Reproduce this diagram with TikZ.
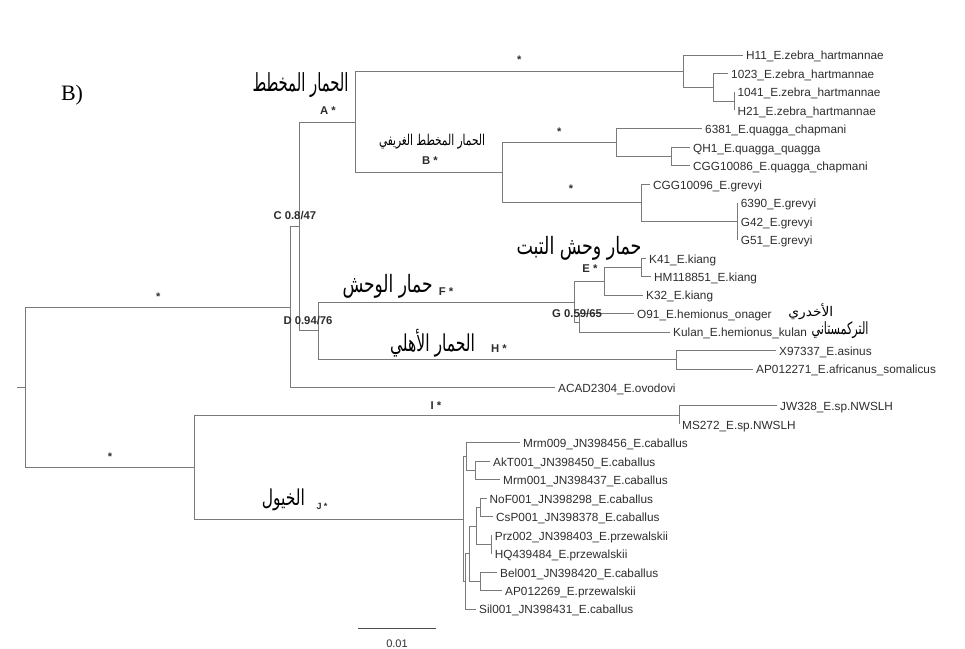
\documentclass[tikz,border=0pt]{standalone}
\usepackage{fontspec}
\usepackage{graphicx}
\setmainfont{Liberation Sans}
\newfontfamily\arabicfont[Script=Arabic]{DejaVu Sans}
\newfontfamily\serifB{Liberation Serif}
\TeXXeTstate=1
\definecolor{branch}{HTML}{7A7A7A}
\definecolor{txt}{HTML}{2E2E2E}
\begin{document}
\begin{tikzpicture}[x=1pt,y=-1pt,
 br/.style={draw=branch, line width=0.9pt},
 leaf/.style={anchor=base west, inner sep=0pt, xshift=3pt, yshift=-4.8pt, text=txt, font=\fontsize{11.8}{12}\selectfont},
 lab/.style={anchor=base, inner sep=0pt, text=txt, font=\bfseries\fontsize{11.3}{12}\selectfont},
 labw/.style={anchor=base west, inner sep=0pt, text=txt, font=\bfseries\fontsize{11.3}{12}\selectfont},
 star/.style={anchor=base, inner sep=0pt, text=txt, font=\bfseries\fontsize{11}{12}\selectfont},
 arab/.style={inner sep=0pt, text=black, font=\arabicfont}]
\useasboundingbox (0,0) rectangle (965,648);
\fill[white] (0,0) rectangle (965,648);

% internal nodes
\coordinate (rootstub) at (17,387.04);
\coordinate (root) at (25.7,387.04);
\coordinate (Up) at (290,306.98);
\coordinate (C) at (299.3,226.45);
\coordinate (A) at (355.7,122);
\coordinate (Z) at (683.3,71.15);
\coordinate (Z2) at (713.3,87.3);
\coordinate (Z3) at (734.3,101.15);
\coordinate (B) at (502.3,172.8);
\coordinate (Q) at (616.7,142.75);
\coordinate (Q2) at (671.7,156.6);
\coordinate (Gr) at (641,202.8);
\coordinate (G2) at (737.7,221.25);
\coordinate (D) at (318.3,330.9);
\coordinate (F) at (574,302.05);
\coordinate (E) at (604.3,281.25);
\coordinate (K2) at (641,267.4);
\coordinate (Gn) at (579,322.85);
\coordinate (As) at (676.7,359.75);
\coordinate (Low) at (194,467.1);
\coordinate (I) at (679,415.15);
\coordinate (J) at (463.3,519.05);
\coordinate (Hc1) at (466,456.7);
\coordinate (H1) at (475,470.55);
\coordinate (H2) at (480,507.55);
\coordinate (H3) at (491.7,544.45);
\coordinate (H4) at (476.7,526);
\coordinate (H5) at (480,581.4);
\coordinate (H6) at (469,553.7);
\coordinate (H7) at (465,581.4);

% leaf ends
\coordinate (l1) at (743,55.0);
\coordinate (l2) at (728,73.5);
\coordinate (l3) at (734.3,91.9);
\coordinate (l4) at (734.3,110.4);
\coordinate (l5) at (702,128.9);
\coordinate (l6) at (690,147.4);
\coordinate (l7) at (690,165.8);
\coordinate (l8) at (650,184.3);
\coordinate (l9) at (737.7,202.8);
\coordinate (l10) at (737.7,221.2);
\coordinate (l11) at (737.7,239.7);
\coordinate (l12) at (646,258.2);
\coordinate (l13) at (651,276.6);
\coordinate (l14) at (643,295.1);
\coordinate (l15) at (634,313.6);
\coordinate (l16) at (670,332.1);
\coordinate (l17) at (776,350.5);
\coordinate (l18) at (753,369.0);
\coordinate (l19) at (555,387.5);
\coordinate (l20) at (777,405.9);
\coordinate (l21) at (679,424.4);
\coordinate (l22) at (520,442.9);
\coordinate (l23) at (490,461.3);
\coordinate (l24) at (500,479.8);
\coordinate (l25) at (486.5,498.3);
\coordinate (l26) at (493,516.8);
\coordinate (l27) at (491.7,535.2);
\coordinate (l28) at (491.7,553.7);
\coordinate (l29) at (497,572.2);
\coordinate (l30) at (502,590.6);
\coordinate (l31) at (476,609.1);

% branches
\draw[br] (rootstub) -- (root);
\foreach \p/\c in {root/Up, root/Low, Up/C, Up/l19, C/A, C/D, A/Z, A/B,
  Z/l1, Z/Z2, Z2/l2, Z2/Z3, Z3/l3, Z3/l4, B/Q, B/Gr, Q/l5, Q/Q2, Q2/l6, Q2/l7,
  Gr/l8, Gr/G2, G2/l9, G2/l10, G2/l11, D/F, D/As, F/E, F/Gn, E/K2, E/l14,
  K2/l12, K2/l13, Gn/l15, Gn/l16, As/l17, As/l18, Low/I, Low/J, I/l20, I/l21,
  J/Hc1, J/H7, Hc1/l22, Hc1/H1, H1/l23, H1/l24, H7/H6, H7/l31, H6/H4, H6/H5,
  H4/H2, H4/H3, H2/l25, H2/l26, H3/l27, H3/l28, H5/l29, H5/l30}
  \draw[br] (\p) |- (\c);

% leaf labels
\node[leaf] (t1) at (l1) {H11\_E.zebra\_hartmannae};
\node[leaf] (t2) at (l2) {1023\_E.zebra\_hartmannae};
\node[leaf] (t3) at (l3) {1041\_E.zebra\_hartmannae};
\node[leaf] (t4) at (l4) {H21\_E.zebra\_hartmannae};
\node[leaf] (t5) at (l5) {6381\_E.quagga\_chapmani};
\node[leaf] (t6) at (l6) {QH1\_E.quagga\_quagga};
\node[leaf] (t7) at (l7) {CGG10086\_E.quagga\_chapmani};
\node[leaf] (t8) at (l8) {CGG10096\_E.grevyi};
\node[leaf] (t9) at (l9) {6390\_E.grevyi};
\node[leaf] (t10) at (l10) {G42\_E.grevyi};
\node[leaf] (t11) at (l11) {G51\_E.grevyi};
\node[leaf] (t12) at (l12) {K41\_E.kiang};
\node[leaf] (t13) at (l13) {HM118851\_E.kiang};
\node[leaf] (t14) at (l14) {K32\_E.kiang};
\node[leaf] (t15) at (l15) {O91\_E.hemionus\_onager};
\node[leaf] (t16) at (l16) {Kulan\_E.hemionus\_kulan};
\node[leaf] (t17) at (l17) {X97337\_E.asinus};
\node[leaf] (t18) at (l18) {AP012271\_E.africanus\_somalicus};
\node[leaf] (t19) at (l19) {ACAD2304\_E.ovodovi};
\node[leaf] (t20) at (l20) {JW328\_E.sp.NWSLH};
\node[leaf] (t21) at (l21) {MS272\_E.sp.NWSLH};
\node[leaf] (t22) at (l22) {Mrm009\_JN398456\_E.caballus};
\node[leaf] (t23) at (l23) {AkT001\_JN398450\_E.caballus};
\node[leaf] (t24) at (l24) {Mrm001\_JN398437\_E.caballus};
\node[leaf] (t25) at (l25) {NoF001\_JN398298\_E.caballus};
\node[leaf] (t26) at (l26) {CsP001\_JN398378\_E.caballus};
\node[leaf] (t27) at (l27) {Prz002\_JN398403\_E.przewalskii};
\node[leaf] (t28) at (l28) {HQ439484\_E.przewalskii};
\node[leaf] (t29) at (l29) {Bel001\_JN398420\_E.caballus};
\node[leaf] (t30) at (l30) {AP012269\_E.przewalskii};
\node[leaf] (t31) at (l31) {Sil001\_JN398431\_E.caballus};

% support stars and node labels
\node[star] (s1) at (519.3,63.3) {*};
\node[star] (s2) at (559.3,135.3) {*};
\node[star] (s3) at (571,192.7) {*};
\node[star] (s4) at (158.3,300) {*};
\node[star] (s5) at (110,460) {*};
\node[lab] (nA) at (328,114.7) {A *};
\node[lab] (nB) at (430,164) {B *};
\node[labw] (nC) at (273.3,219) {C 0.8/47};
\node[labw] (nD) at (283.3,324.7) {D 0.94/76};
\node[lab] (nE) at (590,272) {E *};
\node[lab] (nF) at (446,295) {F *};
\node[labw] (nG) at (552,317) {G 0.59/65};
\node[lab] (nH) at (499,352.3) {H *};
\node[lab] (nI) at (436,409) {I *};
\node[anchor=base, inner sep=0pt, text=txt, font=\bfseries\fontsize{9}{10}\selectfont] (nJ) at (322,509) {J *};

% Arabic labels
\node[arab] (ar1) at (300.5,85) {\resizebox*{96pt}{25pt}{\beginR الحمار المخطط\endR}};
\node[arab] (ar2) at (432,141.7) {\resizebox*{106pt}{15pt}{\beginR الحمار المخطط الغريفي\endR}};
\node[arab] (ar3) at (579,248.3) {\resizebox*{125pt}{24pt}{\beginR حمار وحش التبت\endR}};
\node[arab] (ar4) at (387.5,286.7) {\resizebox*{90pt}{24pt}{\beginR حمار الوحش\endR}};
\node[arab] (ar5) at (432.5,343.3) {\resizebox*{85pt}{28pt}{\beginR الحمار الأهلي\endR}};
\node[arab] (ar6) at (810.8,311.7) {\resizebox*{45pt}{16pt}{\beginR الأخدري\endR}};
\node[arab] (ar7) at (840,330) {\resizebox*{57pt}{17pt}{\beginR التركمستاني\endR}};
\node[arab] (ar8) at (283.3,500) {\resizebox*{43pt}{22pt}{\beginR الخيول\endR}};

% panel label
\node[inner sep=0pt, text=black, font=\serifB\fontsize{22}{24}\selectfont] (panel) at (72,95) {B)};

% scale bar
\coordinate (sb1) at (358,628);
\coordinate (sb2) at (436,628);
\draw[draw=black!70, line width=0.9pt] (sb1) -- (sb2);
\node[anchor=base, inner sep=0pt, text=txt, font=\fontsize{11}{12}\selectfont] (sbl) at (397,647) {0.01};
\end{tikzpicture}
\end{document}
